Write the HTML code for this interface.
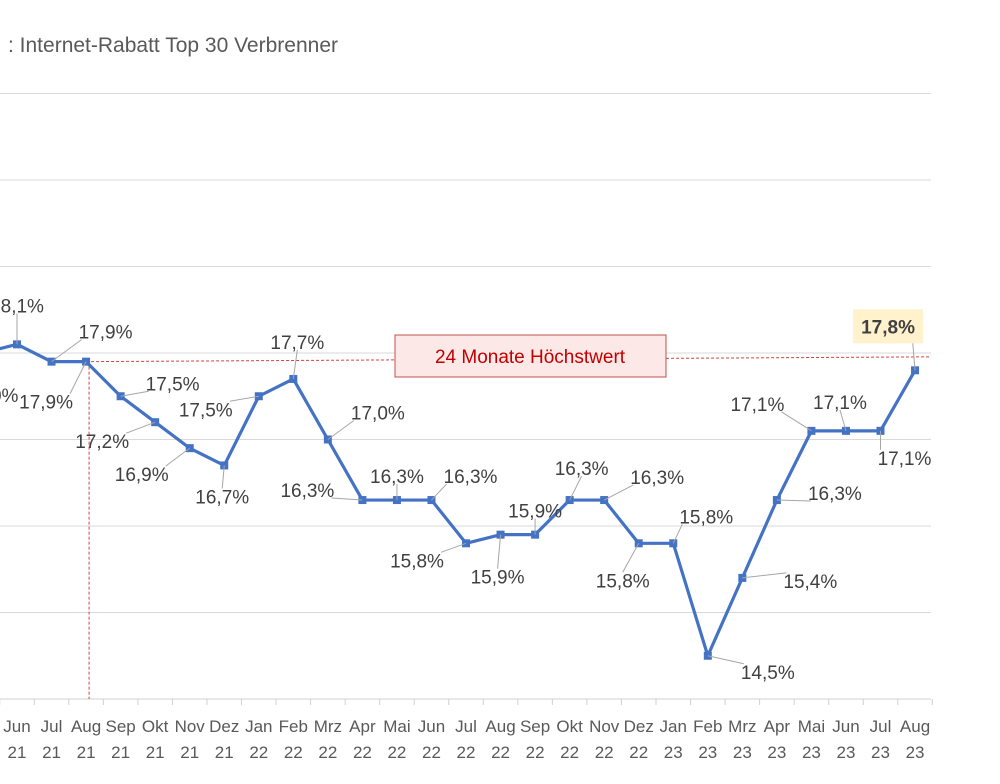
<!DOCTYPE html>
<html><head><meta charset="utf-8"><style>
body{margin:0;background:#fff;}
svg text{font-family:"Liberation Sans",sans-serif;}
</style></head><body>
<svg width="1000" height="779" viewBox="0 0 1000 779" xmlns="http://www.w3.org/2000/svg">
<rect width="1000" height="779" fill="#fff"/>
<text x="8" y="52" font-size="21" fill="#595959">: Internet-Rabatt Top 30 Verbrenner</text>
<g id="grid"></g>
<g id="axis"></g>
<g id="refs"></g>
<g id="series"></g>
<g id="labels"></g>
</svg>
<script>
const months = ["Mai","Jun","Jul","Aug","Sep","Okt","Nov","Dez","Jan","Feb","Mrz","Apr","Mai","Jun","Jul","Aug","Sep","Okt","Nov","Dez","Jan","Feb","Mrz","Apr","Mai","Jun","Jul","Aug"];
const years = ["21","21","21","21","21","21","21","21","22","22","22","22","22","22","22","22","22","22","22","22","23","23","23","23","23","23","23","23"];
const values = [18.0,18.1,17.9,17.9,17.5,17.2,16.9,16.7,17.5,17.7,17.0,16.3,16.3,16.3,15.8,15.9,15.9,16.3,16.3,15.8,15.8,14.5,15.4,16.3,17.1,17.1,17.1,17.8];
const yTicks = [14,15,16,17,18,19,20,21];
const refValue = 17.9;
const NS="http://www.w3.org/2000/svg";
const x = i => 17 + (i-1)*34.54;
const y = v => 699 - (v-14)*86.5;
function mk(t,a,p){const e=document.createElementNS(NS,t);for(const k in a)e.setAttribute(k,a[k]);p.appendChild(e);return e;}
const grid=document.getElementById('grid'),axis=document.getElementById('axis'),refs=document.getElementById('refs'),series=document.getElementById('series'),labels=document.getElementById('labels');
yTicks.forEach(t=>{
  if(t===14) return;
  const l=mk('line',{x1:0,x2:931,y1:y(t),y2:y(t),stroke:'#d9d9d9','stroke-width':1},grid);
  
  
});
const ax=mk('line',{x1:0,x2:931,y1:699,y2:699,stroke:'#d0d0d0','stroke-width':1},axis);


months.forEach((m,i)=>{
  const tk=mk('line',{x1:x(i)+17.27,x2:x(i)+17.27,y1:699,y2:705,stroke:'#d0d0d0'},axis);
  
  
  if(i===0) return;
  const t=mk('text',{x:x(i),y:732,'font-size':17,fill:'#595959','text-anchor':'middle'},axis);
  t.textContent=m;
  
  
  const t2=mk('text',{x:x(i),y:758,'font-size':17,fill:'#595959','text-anchor':'middle'},axis);
  t2.textContent=years[i];
  
  
});
const rh=mk('line',{x1:x(3),x2:931,y1:y(refValue),y2:y(refValue)+6-6*1.8,stroke:'#d0443e','stroke-width':1,'stroke-dasharray':'3,2'},refs);


const rv=mk('line',{x1:x(3)+3,x2:x(3)+3,y1:y(refValue),y2:699,stroke:'#d0443e','stroke-width':1,'stroke-dasharray':'3,2'},refs);


const box=mk('rect',{x:395,y:335,width:271,height:42,fill:'#fce8e6',stroke:'#c0504d','stroke-width':1},refs);


const bt=mk('text',{x:530,y:363,'font-size':19,fill:'#c00000','text-anchor':'middle'},refs);
bt.textContent='24 Monate Höchstwert';


const pl=mk('polyline',{points:values.map((v,i)=>x(i)+','+y(v)).join(' '),fill:'none',stroke:'#4472c4','stroke-width':3.2,'stroke-linejoin':'round'},series);


values.forEach((v,i)=>{
  const r=mk('rect',{x:x(i)-4,y:y(v)-4,width:8,height:8,fill:'#4472c4'},series);
  
  
});
const off=[[9,42],[0,-39],[54,-30],[-40,40],[52,-13],[-53,19],[-48,26],[-2,31],[-53,13],[4,-37],[50,-27],[-55,-10],[0,-24],[39,-24],[-49,17],[-3,42],[0,-24],[12,-32],[53,-23],[-16,37],[33,-27],[60,16],[68,3],[58,-7],[-54,-27],[-6,-29],[24,27],[-27,-44]];
values.forEach((v,i)=>{
  const px=x(i),py=y(v),lx=px+off[i][0],ly=py+off[i][1];
  const last=i===values.length-1;
  if(i>0){
    const ll=mk('line',{x1:px,y1:py,x2:lx+(lx<px?24:-24)*(Math.abs(off[i][0])>20?1:0),y2:ly+(ly<py?8:-8),stroke:'#a6a6a6','stroke-width':1},labels);
    
    
  }
  if(last){
    const b=mk('rect',{x:lx-35,y:ly-17,width:70,height:34,fill:'#fff2cc'},labels);
    
    
  }
  const t=mk('text',{x:lx,y:ly+7,'font-size':19,fill:'#404040','text-anchor':'middle','font-weight':last?'bold':'normal'},labels);
  t.textContent=v.toFixed(1).replace('.',',')+'%';
  
  
});
</script>
</body></html>
